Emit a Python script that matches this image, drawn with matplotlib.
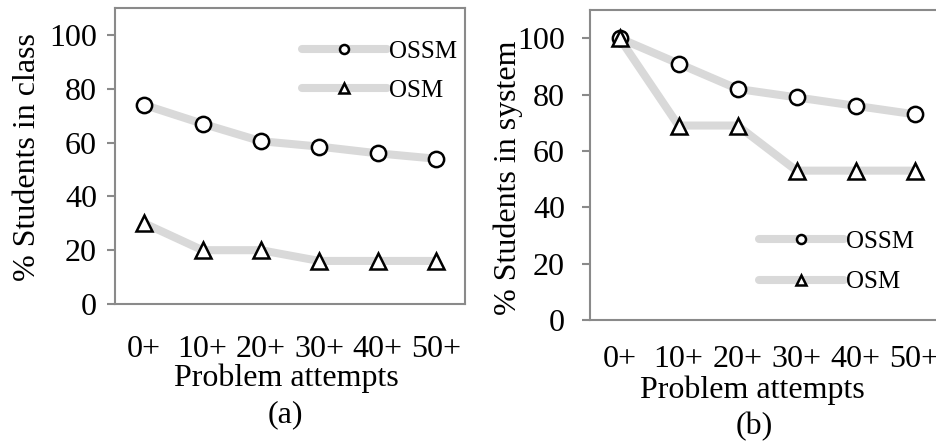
import matplotlib
matplotlib.use("Agg")
import matplotlib.pyplot as plt
from matplotlib.lines import Line2D

plt.rcParams['font.family'] = ['Liberation Serif', 'DejaVu Serif']

# データ
categories = ["0+", "10+", "20+", "30+", "40+", "50+"]
class_ossm = [74, 67, 60.5, 58.5, 56, 54]
class_osm = [30, 20, 20, 16, 16, 16]
system_ossm = [100, 91, 82, 79, 76, 73]
system_osm = [100, 69, 69, 53, 53, 53]

LINE_C = "#d9d9d9"
SPINE_C = "#8a8a8a"


def draw_panel(ax, ossm, osm, ylabel, ytick_pad, xtick_pad):
    x = range(len(categories))
    ax.plot(x, ossm, color=LINE_C, lw=5.8, zorder=1, solid_joinstyle="round")
    ax.plot(x, osm, color=LINE_C, lw=5.8, zorder=1, solid_joinstyle="round")
    ax.plot(x, ossm, ls="none", marker="o", ms=11, mfc="white", mec="black", mew=1.8, zorder=3)
    ax.plot(x, osm, ls="none", marker="^", ms=11, mfc="white", mec="black", mew=1.8, zorder=4)

    ax.set_xlim(-0.5, 5.5)
    ax.set_ylim(0, 110)
    ax.set_yticks([0, 20, 40, 60, 80, 100])
    ax.set_xticks(list(x))
    ax.set_xticklabels(categories)
    ax.tick_params(axis="y", direction="out", length=6, width=1.5, color=SPINE_C,
                   labelsize=23, pad=ytick_pad)
    ax.tick_params(axis="x", length=0, labelsize=23, pad=xtick_pad)
    for s in ax.spines.values():
        s.set_color(SPINE_C)
        s.set_linewidth(1.5)
    ax.set_ylabel(ylabel, fontsize=23)
    ax.set_xlabel("Problem attempts", fontsize=23)
    ax.yaxis.label.set_verticalalignment("center")
    ax.xaxis.label.set_verticalalignment("center")


def legend_handles():
    h1 = Line2D([], [], color=LINE_C, lw=5.8, solid_capstyle="round", marker="o",
                ms=6.5, mfc="white", mec="black", mew=1.8)
    h2 = Line2D([], [], color=LINE_C, lw=5.8, solid_capstyle="round", marker="^",
                ms=6.5, mfc="white", mec="black", mew=1.8)
    return [h1, h2]


fig = plt.figure(figsize=(9.36, 4.44), dpi=100)
ax1 = fig.add_axes([115 / 936, 1 - 304 / 444, 350 / 936, 296 / 444])
ax2 = fig.add_axes([590 / 936, 1 - 320 / 444, 354 / 936, 310 / 444])

# (a) クラス
draw_panel(ax1, class_ossm, class_osm, "% Students in class", 7, 22)
ax1.yaxis.set_label_coords(-0.251, 0.497)
ax1.xaxis.set_label_coords(0.489, -0.25)
ax1.text(0.486, -0.375, "(a)", transform=ax1.transAxes, ha="center", va="center", fontsize=23)
ax1.legend(legend_handles(), ["OSSM", "OSM"], loc="upper left", bbox_to_anchor=(0.534, 0.89),
           frameon=False, fontsize=18, borderpad=0, borderaxespad=0, handlelength=3.4,
           handletextpad=0.1, labelspacing=0.64, numpoints=1)

# (b) システム
draw_panel(ax2, system_ossm, system_osm, "% Students in system", 12, 18)
ax2.yaxis.set_label_coords(-0.232, 0.458)
ax2.xaxis.set_label_coords(0.46, -0.226)
ax2.text(0.463, -0.345, "(b)", transform=ax2.transAxes, ha="center", va="center", fontsize=23)
ax2.legend(legend_handles(), ["OSSM", "OSM"], loc="upper left", bbox_to_anchor=(0.477, 0.289),
           frameon=False, fontsize=18, borderpad=0, borderaxespad=0, handlelength=3.4,
           handletextpad=0.1, labelspacing=0.72, numpoints=1)

fig.savefig("out.png", dpi=100)
